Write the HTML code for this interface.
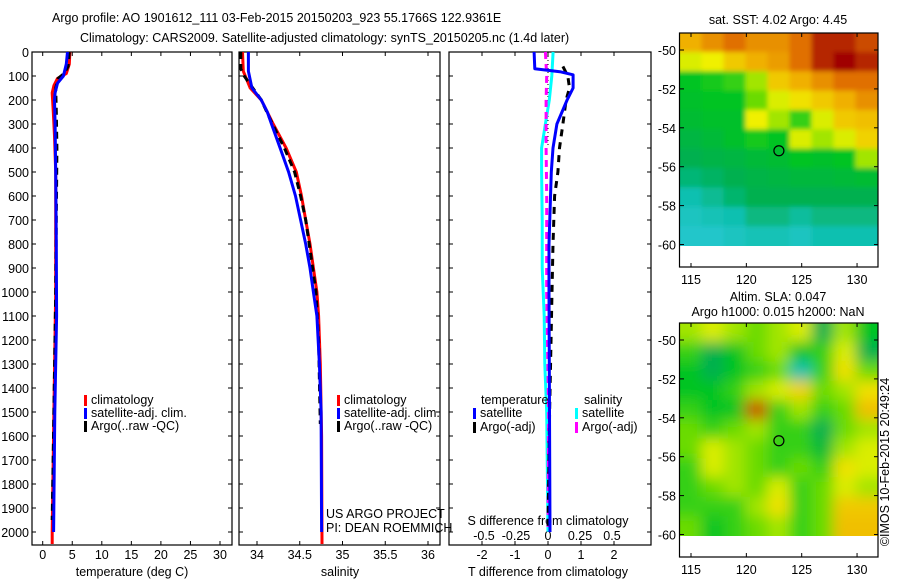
<!DOCTYPE html>
<html><head><meta charset="utf-8"><style>
body{margin:0;background:#fff}
svg{display:block;font-family:"Liberation Sans",sans-serif}
text{font-size:12.5px;fill:#000}
</style></head><body>
<svg id="s" width="900" height="580" viewBox="0 0 900 580">
<defs>
<filter id="blur2" x="0" y="0" width="1" height="1"><feGaussianBlur stdDeviation="7"/></filter>
<filter id="blur1" x="0" y="0" width="1" height="1"><feGaussianBlur stdDeviation="2.5"/></filter>
<clipPath id="c1"><rect x="680" y="33" width="198" height="213"/></clipPath>
<clipPath id="c2"><rect x="680" y="323" width="198" height="213"/></clipPath>
</defs>
<text x="52" y="22">Argo profile: AO 1901612_111 03-Feb-2015 20150203_923 55.1766S 122.9361E</text>
<text x="80" y="42">Climatology: CARS2009. Satellite-adjusted climatology: synTS_20150205.nc (1.4d later)</text>
<text x="778" y="24" text-anchor="middle">sat. SST: 4.02 Argo: 4.45</text>
<text x="778" y="301" text-anchor="middle">Altim. SLA: 0.047</text>
<text x="778" y="316" text-anchor="middle">Argo h1000: 0.015 h2000: NaN</text>
<text transform="translate(889,462) rotate(-90)" text-anchor="middle">©IMOS 10-Feb-2015 20:49:24</text>
<g id="g"></g>
</svg>
<script>
// ---- data ----
const depthTicks=[0,100,200,300,400,500,600,700,800,900,1000,1100,1200,1300,1400,1500,1600,1700,1800,1900,2000];
const tempTicks=[0,5,10,15,20,25,30];
const salTicks=[34,34.5,35,35.5,36];
const tdiffTicks=[-2,-1,0,1,2];
const sdiffTicks=[-0.5,-0.25,0,0.25,0.5];
const tClimDepth=[0,50,90,110,140,170,250,350,500,1000,1500,2000,2050];
const tClimVal=[4.6,4.5,4.0,2.5,1.9,1.6,1.8,2.0,2.2,2.2,1.9,1.6,1.6];
const tSatDepth=[0,50,100,130,170,200,300,500,800,1100,1500,2000];
const tSatVal=[4.2,4.0,3.5,2.5,2.1,2.0,2.1,2.2,2.3,2.35,2.05,1.85];
const tArgoDepth=[0,60,90,110,150,250,400,700,1000,1500,1950];
const tArgoVal=[4.5,4.3,3.6,2.6,2.2,2.3,2.4,2.3,2.2,1.9,1.6];
const sClimDepth=[0,80,150,200,250,300,400,500,600,700,800,900,1000,1100,1300,1600,2050];
const sClimVal=[33.83,33.84,33.92,34.05,34.12,34.19,34.34,34.46,34.52,34.57,34.62,34.66,34.70,34.72,34.74,34.755,34.76];
const sSatDepth=[0,80,150,200,250,300,400,500,600,700,800,900,1000,1100,1300,1500,2000];
const sSatVal=[33.9,33.9,33.94,34.05,34.12,34.17,34.27,34.37,34.45,34.51,34.57,34.62,34.66,34.70,34.73,34.75,34.755];
const sArgoDepth=[0,70,100,200,300,400,500,600,700,800,900,1000,1200,1550];
const sArgoVal=[33.81,33.81,33.85,34.05,34.18,34.32,34.44,34.51,34.57,34.61,34.65,34.69,34.72,34.74];
const dTSatDepth=[0,70,82,95,150,200,300,400,500,800,1000,2000];
const dTSatVal=[-0.42,-0.4,0.36,0.76,0.76,0.58,0.27,0.15,0.1,0.03,0.03,0.06];
const dTArgoDepth=[60,100,150,200,300,400,500,600,800,1000,1500,2000];
const dTArgoVal=[0.45,0.6,0.65,0.55,0.45,0.35,0.3,0.2,0.15,0.12,0.05,0];
const dSSatDepth=[0,100,200,300,400,500,700,900,1100,1300,1500,2000];
const dSSatVal=[0.04,0.03,0.01,-0.02,-0.05,-0.05,-0.045,-0.045,-0.03,-0.025,-0.01,0];
const dSArgoDepth=[0,100,200,400,600,800,1000,1500,2000];
const dSArgoVal=[-0.02,-0.01,-0.015,-0.015,-0.01,-0.01,-0.01,0.005,0];
const latTicks=[-50,-52,-54,-56,-58,-60];
const lonTicks=[115,120,125,130];
const sstGrid=[
[.75,.8,.85,.8,.8,.85,.95,.95,.9],
[.6,.62,.7,.75,.78,.85,.95,1,.95],
[.4,.42,.45,.55,.7,.75,.8,.85,.85],
[.38,.4,.4,.5,.6,.65,.7,.75,.8],
[.36,.38,.38,.62,.55,.45,.6,.7,.72],
[.33,.35,.38,.42,.4,.6,.55,.6,.68],
[.3,.32,.33,.35,.36,.4,.38,.4,.55],
[.26,.28,.3,.32,.33,.34,.34,.35,.36],
[.2,.23,.27,.3,.3,.3,.3,.3,.3],
[.15,.18,.2,.25,.25,.22,.25,.25,.25],
[.12,.12,.15,.18,.18,.15,.2,.2,.2]];
const slaGrid=[
[.55,.6,.55,.5,.55,.6,.3,.55,.4],
[.45,.3,.4,.5,.55,.4,.45,.6,.3],
[.4,.3,.4,.45,.5,.2,.45,.65,.5],
[.4,.4,.45,.55,.6,.68,.5,.55,.65],
[.45,.4,.4,.9,.45,.55,.45,.5,.72],
[.5,.45,.5,.55,.45,.45,.3,.5,.55],
[.5,.6,.55,.5,.45,.45,.35,.55,.6],
[.45,.6,.55,.5,.45,.5,.45,.65,.6],
[.45,.5,.55,.5,.6,.45,.5,.6,.55],
[.45,.45,.45,.55,.65,.45,.5,.7,.7],
[.5,.4,.45,.5,.55,.45,.5,.72,.72]];
// ---- layout ----
const NS='http://www.w3.org/2000/svg';
const G=document.getElementById('g');
function el(t,a,p){const e=document.createElementNS(NS,t);for(const k in a)e.setAttribute(k,a[k]);(p||G).appendChild(e);return e;}
const Y0=52,YB=545,dy=d=>Y0+d*0.24;
const xT=v=>42.7+5.91*v, xS=v=>257+85.5*(v-34), xDT=v=>548+33*v, xDS=v=>548+128*v;
const panels=[[32,232],[239,440],[449,651]];
panels.forEach((p,i)=>{
  const r=el('rect',{x:p[0],y:Y0,width:p[1]-p[0],height:YB-Y0,fill:'none',stroke:'#000','stroke-width':1.2});
  
  
  depthTicks.forEach(d=>{
    el('line',{x1:p[0],x2:p[0]+4,y1:dy(d),y2:dy(d),stroke:'#000'});
    el('line',{x1:p[1],x2:p[1]-4,y1:dy(d),y2:dy(d),stroke:'#000'});
  });
});
depthTicks.forEach(d=>{const t=el('text',{x:29,y:dy(d)+5,'text-anchor':'end'});t.textContent=d;
  
  });
function xticks(ticks,fx,y,p,lab){ticks.forEach(v=>{const x=fx(v);
  el('line',{x1:x,x2:x,y1:YB,y2:YB-4,stroke:'#000'});el('line',{x1:x,x2:x,y1:Y0,y2:Y0+4,stroke:'#000'});
  if(lab){const t=el('text',{x:x,y:y,'text-anchor':'middle'});t.textContent=v;
  
  }});}
xticks(tempTicks,xT,559,0,1);xticks(salTicks,xS,559,0,1);xticks(tdiffTicks,xDT,559,0,1);
sdiffTicks.forEach(v=>{const t=el('text',{x:xDS(v),y:540,'text-anchor':'middle'});t.textContent=v;
  
  });
[[132,'temperature (deg C)'],[340,'salinity'],[548,'T difference from climatology']].forEach(a=>{
  const t=el('text',{x:a[0],y:576,'text-anchor':'middle'});t.textContent=a[1];
  
  });
[[548,525,'S difference from climatology','middle'],[326,518,'US ARGO PROJECT','start'],[326,532,'PI: DEAN ROEMMICH','start']].forEach(a=>{
  const t=el('text',{x:a[0],y:a[1],'text-anchor':a[3]});t.textContent=a[2];
  
  });
const zl=el('line',{x1:548,x2:548,y1:Y0,y2:dy(400),stroke:'#000','stroke-dasharray':'1 3'});


function series(ds,vs,fx,col,w,dash,name){
  const pts=ds.map((d,i)=>fx(vs[i]).toFixed(1)+','+dy(d).toFixed(1)).join(' ');
  const a={points:pts,fill:'none',stroke:col,'stroke-width':w,'stroke-linejoin':'round'};
  if(dash)a['stroke-dasharray']=dash;
  const p=el('polyline',a);
  
  
}
series(tClimDepth,tClimVal,xT,'#f00',3,null,'temp-climatology-line');
series(tArgoDepth,tArgoVal,xT,'#000',3,'7 5','temp-argo-line');
series(tSatDepth,tSatVal,xT,'#00f',3,null,'temp-satellite-line');
series(sClimDepth,sClimVal,xS,'#f00',3,null,'sal-climatology-line');
series(sArgoDepth,sArgoVal,xS,'#000',3,'7 5','sal-argo-line');
series(sSatDepth,sSatVal,xS,'#00f',3,null,'sal-satellite-line');
series(dSSatDepth,dSSatVal,xDS,'#0ff',3,null,'sdiff-satellite-line');
series(dSArgoDepth,dSArgoVal,xDS,'#f0f',3,'7 5','sdiff-argo-line');
series(dTArgoDepth,dTArgoVal,xDT,'#000',3,'7 6','tdiff-argo-line');
series(dTSatDepth,dTSatVal,xDT,'#00f',3,null,'tdiff-satellite-line');
function legend(x,y,col,txt){const b=el('rect',{x:x,y:y-9,width:3,height:11,fill:col});
  
  
  const t=el('text',{x:x+7,y:y});t.textContent=txt;
  
  }
[[84,'#f00','climatology',404],[84,'#00f','satellite-adj. clim.',417],[84,'#000','Argo(..raw -QC)',430]].forEach(a=>legend(a[0],a[3],a[1],a[2]));
[[337,'#f00','climatology',404],[337,'#00f','satellite-adj. clim.',417],[337,'#000','Argo(..raw -QC)',430]].forEach(a=>legend(a[0],a[3],a[1],a[2]));
legend(473,417,'#00f','satellite');legend(473,431,'#000','Argo(-adj)');
legend(575,417,'#0ff','satellite');legend(575,431,'#f0f','Argo(-adj)');
[[481,404,'temperature'],[584,404,'salinity']].forEach(a=>{const t=el('text',{x:a[0],y:a[1]});t.textContent=a[2];
  
  });
// ---- maps ----
const stops=[[0,[64,208,240]],[.2,[16,192,176]],[.3,[0,176,80]],[.4,[0,196,32]],[.52,[128,224,0]],[.62,[240,240,0]],[.75,[240,176,0]],[.85,[224,112,0]],[1,[160,0,0]]];
function cmap(v){for(let i=1;i<stops.length;i++){if(v<=stops[i][0]){const a=stops[i-1],b=stops[i],t=(v-a[0])/(b[0]-a[0]);
  return 'rgb('+a[1].map((c,k)=>Math.round(c+(b[1][k]-c)*t)).join(',')+')';}}return 'rgb(160,0,0)';}
function map(top,grid,clip,filt,name,lat50){
  const grp=el('g',{'clip-path':'url(#'+clip+')'});
  const inner=el('g',{filter:'url(#'+filt+')'},grp);
  
  
  const nr=grid.length,nc=grid[0].length,cw=198/nc,ch=213/nr,pad=25;
  grid.forEach((row,r)=>row.forEach((v,c)=>{
    let x=680+c*cw-0.5,y=top+r*ch-0.5,w=cw+1,h=ch+1;
    if(c===0){x-=pad;w+=pad;} if(c===nc-1){w+=pad;}
    if(r===0){y-=pad;h+=pad;} if(r===nr-1){h+=pad;}
    const e=el('rect',{x:x,y:y,width:w,height:h,fill:cmap(v)},inner);
    
    
  }));
  const fr=el('rect',{x:679.5,y:top,width:198.5,height:234,fill:'none',stroke:'#000','stroke-width':1.2});
  
  
  const yl=v=>lat50+(-50-v)*19.45, xl=v=>691+(v-115)*11.07;
  latTicks.forEach(v=>{const y=yl(v);el('line',{x1:679.5,x2:684,y1:y,y2:y,stroke:'#000'});el('line',{x1:878,x2:874,y1:y,y2:y,stroke:'#000'});
    const t=el('text',{x:676,y:y+5,'text-anchor':'end'});t.textContent=v;
    
    });
  lonTicks.forEach(v=>{const x=xl(v);el('line',{x1:x,x2:x,y1:top+234,y2:top+230,stroke:'#000'});el('line',{x1:x,x2:x,y1:top,y2:top+4,stroke:'#000'});
    const t=el('text',{x:x,y:top+251,'text-anchor':'middle'});t.textContent=v;
    
    });
  const c=el('circle',{cx:xl(122.94),cy:yl(-55.18),r:5,fill:'none',stroke:'#000','stroke-width':1.2});
  
  
}
map(33,sstGrid,'c1','blur1','sst-map',50);
map(323,slaGrid,'c2','blur2','sla-map',340);
</script>
</body></html>
